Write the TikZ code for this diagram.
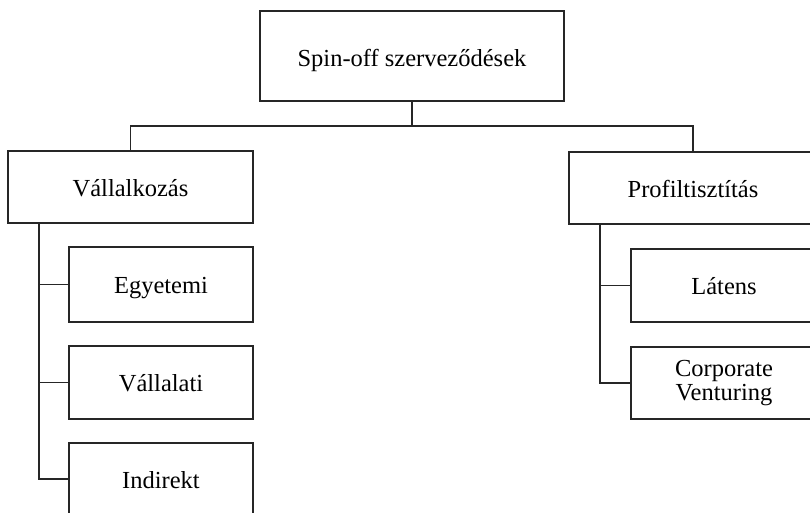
\documentclass[tikz,border=0pt]{standalone}
\usepackage{fontspec}
\setmainfont{Liberation Serif}
\begin{document}
\begin{tikzpicture}[x=1pt,y=-1pt,
  boxnode/.style={draw=black!85,line width=1.2pt,rectangle,inner sep=0pt,outer sep=0pt,
    align=center,font=\fontsize{24.5}{24.5}\selectfont},
  oneline/.style={text height=18pt,text depth=0pt},
  conn/.style={draw=black!85,line width=1.2pt}]
\useasboundingbox (0,0) rectangle (810,513);
\begin{scope}
\clip (0,0) rectangle (810,513);
\node[boxnode,oneline,text height=21pt,minimum width=304pt,minimum height=90pt] (top) at (412,56) {Spin-off szerveződések};
\node[boxnode,oneline,minimum width=245pt,minimum height=72pt] (vall) at (130.5,187) {Vállalkozás};
\node[boxnode,oneline,minimum width=248pt,minimum height=72pt] (prof) at (693,188) {Profiltisztítás};
\node[boxnode,oneline,minimum width=184pt,minimum height=75pt] (egy) at (161,284.5) {Egyetemi};
\node[boxnode,oneline,minimum width=184pt,minimum height=73pt] (vlati) at (161,382.5) {Vállalati};
\node[boxnode,oneline,minimum width=184pt,minimum height=72pt] (ind) at (161,479) {Indirekt};
\node[boxnode,oneline,minimum width=186pt,minimum height=73pt] (lat) at (724,285.5) {Látens};
\node[boxnode,minimum width=186pt,minimum height=72pt] (corp) at (724,383) {Corporate\\Venturing};
\coordinate (bus) at (412,126);
\coordinate (lt) at (39,223);
\coordinate (rt) at (600,224);
\draw[conn] (top.south) -- (bus);
\draw[conn] (vall.north) |- (bus) -| (prof.north);
\draw[conn] (lt) |- (ind.west);
\draw[conn] (egy.west) -- (egy.west -| lt);
\draw[conn] (vlati.west) -- (vlati.west -| lt);
\draw[conn] (rt) |- (corp.west);
\draw[conn] (lat.west) -- (lat.west -| rt);
\end{scope}
\end{tikzpicture}
\end{document}
